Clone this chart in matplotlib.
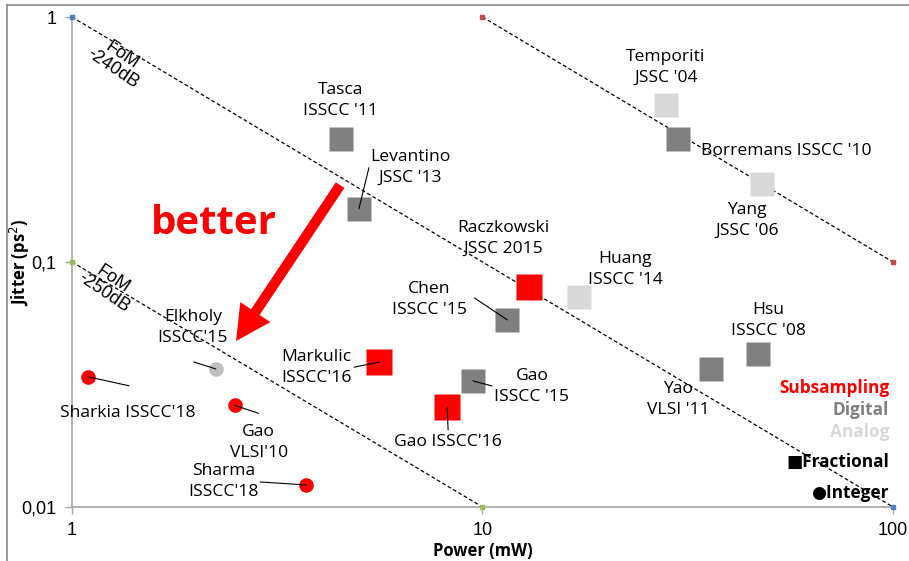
import matplotlib
matplotlib.use("Agg")
import matplotlib.pyplot as plt
from matplotlib.lines import Line2D

# PLL designs: power (mW), integrated jitter squared (ps^2)
names = ["Tasca\nISSCC '11", "Levantino\nJSSC '13", "Temporiti\nJSSC '04",
         "Borremans ISSCC '10", "Yang\nJSSC '06", "Raczkowski\nJSSC 2015",
         "Huang\nISSCC '14", "Chen\nISSCC '15", "Hsu\nISSCC '08", "Yao\nVLSI '11",
         "Markulic\nISSCC'16", "Gao\nISSCC '15", "Gao ISSCC'16",
         "Elkholy\nISSCC'15", "Sharkia ISSCC'18", "Gao\nVLSI'10", "Sharma\nISSCC'18"]
power = [4.52, 5.0, 28.0, 29.9, 48.0, 13.0, 17.2, 11.5, 46.9, 36.0,
         5.6, 9.48, 8.2, 2.24, 1.094, 2.49, 3.72]
jitter = [0.318, 0.165, 0.437, 0.318, 0.208, 0.079, 0.072, 0.058, 0.042, 0.0366,
          0.039, 0.0327, 0.0256, 0.0366, 0.034, 0.026, 0.0123]
arch = ["Digital", "Digital", "Analog", "Digital", "Analog", "Subsampling",
        "Analog", "Digital", "Digital", "Digital", "Subsampling", "Digital",
        "Subsampling", "Analog", "Subsampling", "Subsampling", "Subsampling"]
kind = ["Fractional"] * 13 + ["Integer"] * 4

# FoM reference lines (start, end)
fom_lines = [((1, 1), (100, 0.01)), ((1, 0.1), (10, 0.01)), ((10, 1), (100, 0.1))]
fom_colors = ["#4F81BD", "#9BBB59", "#C0504D"]

arch_colors = {"Subsampling": "#FF0000", "Digital": "#808080", "Analog": "#D9D9D9"}

# label offsets (pixels from point) and leader-line starts
label_off = [(0, 38), (51, 41), (0, 38), (23, -12), (-15, -36), (-26, 49),
             (46, 27), (-78, 20), (10, 34), (-33, -31), (-63, -5), (59, -6),
             (1, -35), (-23, 41), (40, -36), (24, -37), (-83, 3)]
leader = {1: (10, 41), 7: (-33, 22), 10: (-25, -5), 11: (19, -5), 12: (1, -23),
          13: (-22, 7), 14: (41, -9), 15: (24, -8), 16: (-46, 3)}

lab_font = "Open Sans"

fig = plt.figure(figsize=(9.09, 5.61), dpi=100)
ax = fig.add_axes([72 / 909, 1 - 507 / 561, 821 / 909, 490 / 561])
ax.set_xscale("log")
ax.set_yscale("log")
ax.set_xlim(1, 100)
ax.set_ylim(0.01, 1)

for (p0, p1), c in zip(fom_lines, fom_colors):
    ax.plot([p0[0], p1[0]], [p0[1], p1[1]], color="black", lw=0.9,
            ls=(0, (3, 2)), zorder=2)
    ax.plot([p0[0], p1[0]], [p0[1], p1[1]], ls="none", marker="s", ms=3.5,
            mfc=c, mec=c, zorder=3, clip_on=False)

for i in range(len(names)):
    col = arch_colors[arch[i]]
    if kind[i] == "Fractional":
        sz = 18.5 if arch[i] == "Subsampling" else 17
        ax.plot(power[i], jitter[i], marker="s", ms=sz, mfc=col, mec="none", zorder=4)
    else:
        col = "#BFBFBF" if arch[i] == "Analog" else col
        ax.plot(power[i], jitter[i], marker="o", ms=10.5, mfc=col, mec="none", zorder=4)
    dx, dy = label_off[i]
    ha = "left" if i == 3 else "center"
    ax.annotate(names[i], (power[i], jitter[i]), xytext=(dx, dy),
                textcoords="offset pixels", ha=ha, va="center", family=lab_font,
                size=12.6, linespacing=1.42, zorder=6)
    if i in leader:
        lx, ly = leader[i]
        ax.annotate("", (power[i], jitter[i]), xytext=(lx, ly),
                    textcoords="offset pixels",
                    arrowprops=dict(arrowstyle="-", color="black", lw=0.8,
                                    shrinkA=0, shrinkB=0), zorder=5)

# FoM captions
ax.text(1.29, 0.655, "FoM\n-240dB", rotation=-34, ha="center", va="center",
        family="Liberation Sans", size=13, linespacing=0.95, rotation_mode="anchor")
ax.text(1.225, 0.080, "FoM\n-250dB", rotation=-34, ha="center", va="center",
        family="Liberation Sans", size=13, linespacing=0.95, rotation_mode="anchor")

# "better" arrow and caption
ax.annotate("", xy=(2.51, 0.0476), xytext=(4.50, 0.206),
            arrowprops=dict(arrowstyle="simple,head_length=2.5,head_width=2.6,tail_width=0.74",
                            mutation_scale=10, color="#FF0000", lw=0,
                            shrinkA=0, shrinkB=0), zorder=5)
ax.text(2.22, 0.143, "better", color="#FF0000", family=lab_font, weight="bold",
        size=29, ha="center", va="center", zorder=6)

# architecture / type key
key = [("Subsampling", "#FF0000", 388), ("Digital", "#808080", 410),
       ("Analog", "#D9D9D9", 432), ("\u25A0Fractional", "black", 462),
       ("\u25CFInteger", "black", 493)]
for txt, c, py in key:
    fig.text(889 / 909, 1 - py / 561, txt, color=c, ha="right", va="center",
             family=["Open Sans", "DejaVu Sans"], weight="bold", size=12.4)

ax.set_xticks([1, 10, 100])
ax.set_xticklabels(["1", "10", "100"])
ax.set_yticks([0.01, 0.1, 1])
ax.set_yticklabels(["0,01", "0,1", "1"])
ax.minorticks_off()
ax.tick_params(direction="out", length=5, width=1, color="#A6A6A6",
               labelsize=13, pad=6)
for lab in ax.get_xticklabels() + ax.get_yticklabels():
    lab.set_family("Liberation Sans")
for s in ["top", "right"]:
    ax.spines[s].set_visible(False)
for s in ["left", "bottom"]:
    ax.spines[s].set_color("#A6A6A6")
    ax.spines[s].set_linewidth(1.2)

ax.set_xlabel("Power (mW)", family=lab_font, weight="bold", size=12, labelpad=2)
ax.set_ylabel("Jitter (ps$^2$)", family=lab_font, weight="bold", size=12)
ax.yaxis.set_label_coords(-0.049, 0.5)

# outer chart frame
fig.add_artist(Line2D([7 / 909, 1], [1 - 5 / 561, 1 - 5 / 561], color="#8C8C8C", lw=1.2))
fig.add_artist(Line2D([7 / 909, 7 / 909], [0, 1 - 5 / 561], color="#8C8C8C", lw=1.2))

fig.savefig("out.png", dpi=100)
